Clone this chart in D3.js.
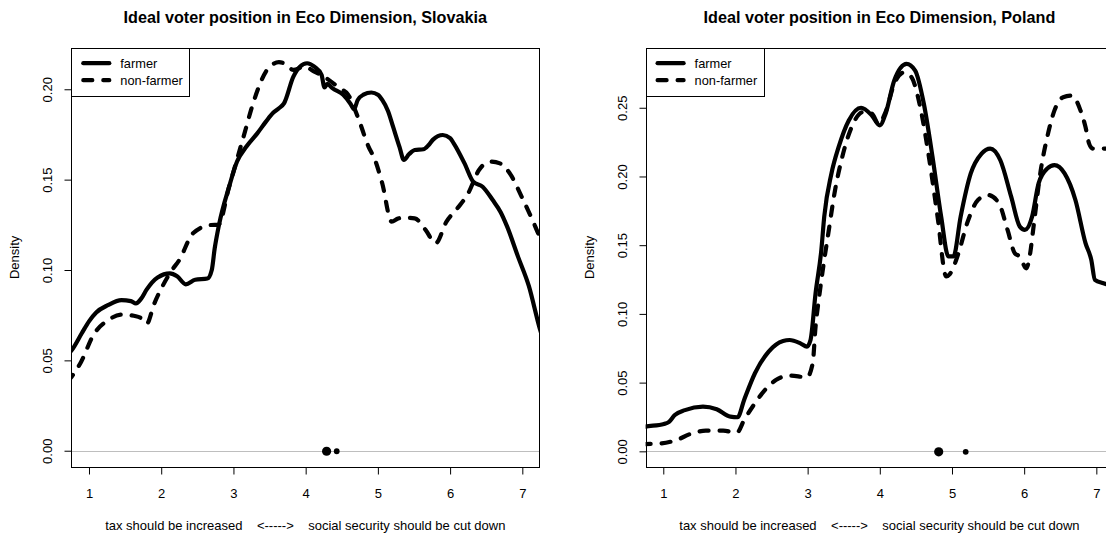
<!DOCTYPE html>
<html>
<head>
<meta charset="utf-8">
<script src="https://cdn.jsdelivr.net/npm/d3@7"></script>
<style>
  html, body { margin: 0; padding: 0; background: #fff; }
  svg { display: block; font-family: "Liberation Sans", Arial, sans-serif; }
</style>
</head>
<body>
<svg id="chart" width="1106" height="539"></svg>
<script>
// ---------------- data ----------------
const titles = ["Ideal voter position in Eco Dimension, Slovakia", "Ideal voter position in Eco Dimension, Poland"];
const seriesNames = ["farmer", "non-farmer"];
const xTicks = [1, 2, 3, 4, 5, 6, 7];
const skYTicks = [0, 0.05, 0.10, 0.15, 0.20];
const plYTicks = [0, 0.05, 0.10, 0.15, 0.20, 0.25];
const xLabel = "tax should be increased    <----->    social security should be cut down";
const yLabel = "Density";

// Slovakia – farmer (solid)
const skFarmer = [
  [0.70,0.0530],[0.76,0.0556],[0.90,0.0650],[1.00,0.0716],[1.10,0.0765],[1.26,0.0805],[1.45,0.0833],
  [1.58,0.0828],[1.65,0.0815],[1.72,0.0840],[1.80,0.0893],[1.95,0.0959],[2.12,0.0981],[2.22,0.0965],
  [2.34,0.0921],[2.47,0.0946],[2.64,0.0953],[2.70,0.1000],[2.74,0.1118],[2.80,0.1250],[2.94,0.1461],
  [3.05,0.1600],[3.18,0.1683],[3.33,0.1756],[3.45,0.1821],[3.55,0.1870],[3.63,0.1895],[3.70,0.1922],
  [3.83,0.2070],[3.92,0.2125],[4.02,0.2144],[4.12,0.2125],[4.22,0.2080],[4.26,0.2010],[4.30,0.2030],
  [4.37,0.2006],[4.52,0.1969],[4.62,0.1920],[4.67,0.1890],[4.72,0.1940],[4.80,0.1970],[4.91,0.1982],
  [5.00,0.1970],[5.06,0.1941],[5.14,0.1880],[5.21,0.1793],[5.30,0.1680],[5.36,0.1609],[5.43,0.1640],
  [5.51,0.1664],[5.63,0.1668],[5.70,0.1690],[5.76,0.1720],[5.90,0.1747],[6.00,0.1730],[6.05,0.1701],
  [6.20,0.1590],[6.32,0.1489],[6.45,0.1461],[6.59,0.1387],[6.70,0.1320],[6.79,0.1240],[6.94,0.1074],
  [7.09,0.0912],[7.24,0.0678],[7.30,0.0600]
];
// Slovakia – non-farmer (dashed)
const skNonFarmer = [
  [0.70,0.0380],[0.76,0.0410],[0.89,0.0491],[1.06,0.0640],[1.26,0.0721],[1.45,0.0753],[1.65,0.0744],
  [1.75,0.0725],[1.80,0.0703],[1.90,0.0810],[2.02,0.0912],[2.15,0.1000],[2.25,0.1055],[2.44,0.1203],
  [2.69,0.1249],[2.79,0.1250],[2.94,0.1460],[3.14,0.1738],[3.28,0.1932],[3.45,0.2098],[3.55,0.2140],
  [3.63,0.2150],[3.72,0.2140],[3.83,0.2107],[3.98,0.2125],[4.12,0.2098],[4.32,0.2052],[4.47,0.2006],
  [4.59,0.1969],[4.72,0.1849],[4.87,0.1683],[4.96,0.1609],[5.06,0.1480],[5.19,0.1268],[5.28,0.1285],
  [5.36,0.1290],[5.51,0.1286],[5.66,0.1222],[5.80,0.1148],[5.95,0.1268],[6.10,0.1341],[6.25,0.1424],
  [6.40,0.1553],[6.55,0.1600],[6.69,0.1590],[6.84,0.1526],[6.99,0.1406],[7.14,0.1277],[7.24,0.1185],
  [7.30,0.1140]
];
// Poland – farmer (solid)
const plFarmer = [
  [0.70,0.0175],[0.75,0.0180],[1.01,0.0199],[1.08,0.0215],[1.16,0.0265],[1.30,0.0300],[1.55,0.0325],
  [1.74,0.0306],[1.93,0.0252],[2.03,0.0248],[2.12,0.0374],[2.27,0.0568],[2.46,0.0726],[2.66,0.0803],
  [2.75,0.0810],[2.90,0.0786],[2.99,0.0762],[3.04,0.0810],[3.11,0.1150],[3.19,0.1466],[3.23,0.1708],
  [3.33,0.2022],[3.43,0.2215],[3.57,0.2408],[3.74,0.2500],[3.89,0.2444],[4.00,0.2372],[4.08,0.2457],
  [4.20,0.2698],[4.37,0.2819],[4.49,0.2770],[4.61,0.2529],[4.73,0.2143],[4.85,0.1708],[4.95,0.1418],
  [5.02,0.1418],[5.12,0.1708],[5.26,0.2022],[5.41,0.2167],[5.53,0.2203],[5.67,0.2118],[5.82,0.1853],
  [5.94,0.1635],[6.01,0.1611],[6.11,0.1708],[6.20,0.1950],[6.32,0.2058],[6.42,0.2082],[6.56,0.2022],
  [6.71,0.1829],[6.85,0.1515],[6.93,0.1393],[6.98,0.1248],[7.10,0.1223],[7.24,0.1200],[7.30,0.1195]
];
// Poland – non-farmer (dashed)
const plNonFarmer = [
  [0.70,0.0052],[0.74,0.0053],[0.97,0.0058],[1.16,0.0078],[1.40,0.0131],[1.59,0.0150],[1.83,0.0150],
  [2.02,0.0136],[2.12,0.0228],[2.27,0.0350],[2.41,0.0447],[2.56,0.0519],[2.75,0.0551],[2.99,0.0539],
  [3.07,0.0640],[3.11,0.0908],[3.16,0.1126],[3.23,0.1393],[3.28,0.1563],[3.38,0.1901],[3.48,0.2143],
  [3.62,0.2372],[3.77,0.2469],[3.89,0.2457],[3.98,0.2384],[4.08,0.2469],[4.20,0.2674],[4.34,0.2758],
  [4.44,0.2722],[4.56,0.2505],[4.68,0.2143],[4.80,0.1708],[4.92,0.1273],[4.97,0.1290],[5.09,0.1442],
  [5.21,0.1660],[5.36,0.1829],[5.50,0.1865],[5.65,0.1805],[5.77,0.1611],[5.87,0.1442],[5.94,0.1417],
  [6.03,0.1332],[6.08,0.1430],[6.13,0.1635],[6.23,0.2046],[6.32,0.2287],[6.42,0.2481],[6.54,0.2577],
  [6.66,0.2589],[6.78,0.2481],[6.85,0.2360],[6.90,0.2239],[6.95,0.2203],[7.10,0.2203],[7.30,0.2203]
];
// positions of the two points drawn on the zero line (large, small)
const skPoints = [4.29, 4.43];
const plPoints = [4.816, 5.19];

// ---------------- layout ----------------
const svg = d3.select("#chart");
const xDomain = [0.755, 7.235];
const panels = [
  { id: "sk", title: titles[0], series: [skFarmer, skNonFarmer], yTicks: skYTicks, yDomain: [-0.0090, 0.2230],
    points: skPoints, left: 71.3, right: 539.3 },
  { id: "pl", title: titles[1], series: [plFarmer, plNonFarmer], yTicks: plYTicks, yDomain: [-0.0114, 0.2937],
    points: plPoints, left: 645.6, right: 1113.3 }
];
const plotTop = 47.7, plotBottom = 467;
const dash = ["none", "9,11"];
const pointR = [4.6, 2.9];

panels.forEach(p => {
  const x = d3.scaleLinear().domain(xDomain).range([p.left, p.right]);
  const y = d3.scaleLinear().domain(p.yDomain).range([plotBottom, plotTop]);
  const g = svg.append("g");

  // clip
  svg.append("clipPath").attr("id", "clip-" + p.id)
    .append("rect").attr("x", p.left).attr("y", plotTop).attr("width", p.right - p.left).attr("height", plotBottom - plotTop);

  // title
  g.append("text").attr("x", (p.left + p.right) / 2).attr("y", 22.5)
    .attr("text-anchor", "middle").attr("font-size", "16.2px").attr("font-weight", "bold")
    .attr("fill", "#000").text(p.title);

  // zero line
  g.append("line").attr("x1", p.left).attr("x2", p.right)
    .attr("y1", Math.round(y(0)) + 0.5).attr("y2", Math.round(y(0)) + 0.5)
    .attr("stroke", "#bebebe").attr("stroke-width", 1);

  // curves
  const line = d3.line().x(d => x(d[0])).y(d => y(d[1])).curve(d3.curveMonotoneX);
  const cg = g.append("g").attr("clip-path", "url(#clip-" + p.id + ")");
  p.series.forEach((s, i) => {
    cg.append("path").datum(s).attr("d", line)
      .attr("fill", "none").attr("stroke", "#000").attr("stroke-width", 4.2)
      .attr("stroke-linecap", "round").attr("stroke-linejoin", "round")
      .attr("stroke-dasharray", dash[i]);
  });

  // points on zero line
  g.selectAll("circle.pt").data(p.points).join("circle")
    .attr("cx", d => x(d)).attr("cy", y(0) + 0.5).attr("r", (d, i) => pointR[i]).attr("fill", "#000");

  // box
  g.append("rect").attr("x", Math.round(p.left) + 0.5).attr("y", Math.round(plotTop) + 0.5)
    .attr("width", Math.round(p.right) - Math.round(p.left)).attr("height", Math.round(plotBottom) - Math.round(plotTop))
    .attr("fill", "none").attr("stroke", "#000").attr("stroke-width", 1);

  // x axis
  const xa = g.append("g").attr("transform", `translate(0,${Math.round(plotBottom) + 0.5})`)
    .call(d3.axisBottom(x).tickValues(xTicks).tickSize(7).tickPadding(6).tickFormat(d3.format("d")));
  xa.select(".domain").remove();
  xa.selectAll("line").attr("stroke", "#000");
  xa.selectAll("text").attr("font-size", "13px").attr("fill", "#000").attr("font-family", "Liberation Sans, Arial, sans-serif")
    .attr("dy", null).attr("y", 30).attr("dominant-baseline", "auto");

  // y axis
  const ya = g.append("g").attr("transform", `translate(${Math.round(p.left) + 0.5},0)`)
    .call(d3.axisLeft(y).tickValues(p.yTicks).tickSize(7).tickFormat(d3.format(".2f")));
  ya.select(".domain").remove();
  ya.selectAll("line").attr("stroke", "#000");
  ya.selectAll("text").attr("font-size", "13px").attr("fill", "#000").attr("font-family", "Liberation Sans, Arial, sans-serif")
    .attr("x", null).attr("dy", null).attr("text-anchor", "middle")
    .attr("transform", "translate(-20,0) rotate(-90)").attr("y", 0).attr("dominant-baseline", "auto");

  // axis titles
  g.append("text").attr("x", (p.left + p.right) / 2).attr("y", 530)
    .attr("text-anchor", "middle").attr("font-size", "13px").attr("fill", "#000")
    .style("white-space", "pre").text(xLabel);
  g.append("text").attr("transform", `translate(${p.left - 52},${(plotTop + plotBottom) / 2}) rotate(-90)`)
    .attr("text-anchor", "middle").attr("font-size", "13px").attr("fill", "#000").text(yLabel);

  // legend
  const lg = g.append("g");
  lg.append("rect").attr("x", Math.round(p.left) + 0.5).attr("y", Math.round(plotTop) + 0.5)
    .attr("width", 118).attr("height", 48).attr("fill", "#fff").attr("stroke", "#000").attr("stroke-width", 1);
  seriesNames.forEach((name, i) => {
    const ly = plotTop + 15.5 + i * 17;
    lg.append("line").attr("x1", p.left + 12).attr("x2", p.left + 38).attr("y1", ly).attr("y2", ly)
      .attr("stroke", "#000").attr("stroke-width", 4.2).attr("stroke-linecap", "round")
      .attr("stroke-dasharray", dash[i]);
    lg.append("text").attr("x", p.left + 49).attr("y", ly + 4.5).attr("font-size", "12.8px").attr("fill", "#000").text(name);
  });
});
</script>
</body>
</html>
